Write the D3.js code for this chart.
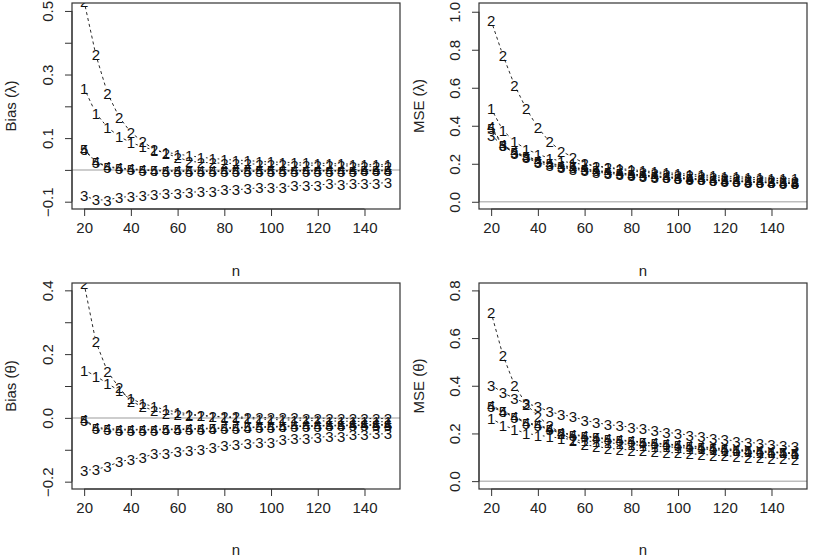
<!DOCTYPE html>
<html><head><meta charset="utf-8">
<script src="https://cdn.jsdelivr.net/npm/d3@7"></script>
<style>
html,body{margin:0;padding:0;background:#fff;}
svg{display:block;font-family:"Liberation Sans",Arial,Helvetica,sans-serif;}
</style></head>
<body><svg id="c" width="813" height="556"></svg>
<script>
// sample sizes (x axis)
const nValues = [20,25,30,35,40,45,50,55,60,65,70,75,80,85,90,95,100,105,110,115,120,125,130,135,140,145,150];
const seriesLabels = ["1","2","3","4","5"];
const xTicks = [20,40,60,80,100,120,140];

// Panel 1: Bias (lambda)
const biasLam1 = [0.257,0.178,0.134,0.105,0.086,0.073,0.062,0.055,0.050,0.044,0.040,0.036,0.033,0.031,0.029,0.027,0.025,0.024,0.023,0.022,0.021,0.020,0.019,0.018,0.017,0.017,0.016];
const biasLam2 = [0.53,0.362,0.241,0.166,0.118,0.089,0.065,0.051,0.040,0.027,0.024,0.022,0.021,0.020,0.019,0.018,0.017,0.016,0.015,0.015,0.014,0.013,0.013,0.012,0.012,0.011,0.011];
const biasLam3 = [-0.082,-0.094,-0.095,-0.086,-0.084,-0.082,-0.076,-0.075,-0.073,-0.070,-0.069,-0.067,-0.062,-0.062,-0.060,-0.056,-0.055,-0.054,-0.049,-0.050,-0.048,-0.044,-0.045,-0.043,-0.043,-0.042,-0.040];
const biasLam4 = [0.065,0.026,0.011,0.006,0.003,0.001,-0.001,-0.002,-0.003,-0.003,-0.003,-0.003,-0.003,-0.003,-0.003,-0.003,-0.003,-0.003,-0.002,-0.002,-0.002,-0.002,-0.002,-0.002,-0.002,-0.001,-0.001];
const biasLam5 = [0.063,0.024,0.009,0.004,0.001,-0.001,-0.003,-0.004,-0.005,-0.005,-0.005,-0.005,-0.005,-0.005,-0.005,-0.005,-0.004,-0.004,-0.004,-0.004,-0.004,-0.004,-0.004,-0.004,-0.003,-0.003,-0.003];
const biasLamTicks = [-0.1,0.0,0.1,0.2,0.3,0.4,0.5];
const biasLamTickLabels = ["\u22120.1","","0.1","","0.3","","0.5"];

// Panel 2: MSE (lambda)
const mseLam1 = [0.49,0.377,0.316,0.277,0.251,0.228,0.214,0.204,0.196,0.188,0.181,0.175,0.169,0.163,0.158,0.153,0.149,0.145,0.141,0.138,0.135,0.132,0.129,0.126,0.124,0.122,0.120];
const mseLam2 = [0.953,0.772,0.614,0.49,0.39,0.316,0.267,0.234,0.202,0.188,0.178,0.170,0.162,0.156,0.150,0.145,0.140,0.136,0.132,0.128,0.125,0.122,0.119,0.116,0.113,0.111,0.108];
const mseLam3 = [0.351,0.295,0.255,0.232,0.205,0.192,0.182,0.172,0.164,0.156,0.150,0.144,0.139,0.134,0.130,0.126,0.122,0.118,0.115,0.112,0.109,0.106,0.104,0.101,0.099,0.097,0.095];
const mseLam4 = [0.395,0.300,0.262,0.240,0.218,0.203,0.192,0.182,0.173,0.165,0.158,0.152,0.146,0.141,0.136,0.132,0.128,0.124,0.120,0.117,0.114,0.111,0.109,0.106,0.104,0.102,0.100];
const mseLam5 = [0.387,0.296,0.258,0.236,0.214,0.199,0.188,0.178,0.170,0.162,0.155,0.149,0.143,0.138,0.133,0.129,0.125,0.121,0.117,0.114,0.111,0.108,0.106,0.103,0.101,0.099,0.097];
const mseLamTicks = [0.0,0.2,0.4,0.6,0.8,1.0];
const mseLamTickLabels = ["0.0","0.2","0.4","0.6","0.8","1.0"];

// Panel 3: Bias (theta)
const biasTh1 = [0.15,0.131,0.108,0.085,0.06,0.045,0.035,0.025,0.018,0.012,0.008,0.005,0.002,0.000,-0.002,-0.004,-0.005,-0.006,-0.007,-0.008,-0.009,-0.010,-0.010,-0.011,-0.011,-0.012,-0.012];
const biasTh2 = [0.42,0.239,0.145,0.095,0.052,0.036,0.022,0.015,0.010,0.009,0.007,0.005,0.004,0.003,0.002,0.001,0.001,0.000,0.000,-0.001,-0.001,-0.001,-0.002,-0.002,-0.002,-0.002,-0.002];
const biasTh3 = [-0.164,-0.162,-0.152,-0.138,-0.130,-0.124,-0.113,-0.112,-0.106,-0.101,-0.098,-0.094,-0.087,-0.085,-0.080,-0.077,-0.076,-0.069,-0.066,-0.065,-0.061,-0.058,-0.057,-0.052,-0.052,-0.050,-0.050];
const biasTh4 = [-0.005,-0.029,-0.034,-0.035,-0.036,-0.036,-0.036,-0.035,-0.035,-0.034,-0.033,-0.032,-0.031,-0.030,-0.029,-0.028,-0.027,-0.026,-0.025,-0.025,-0.024,-0.023,-0.023,-0.022,-0.022,-0.021,-0.021];
const biasTh5 = [-0.008,-0.032,-0.037,-0.038,-0.038,-0.038,-0.038,-0.037,-0.037,-0.036,-0.035,-0.034,-0.033,-0.032,-0.031,-0.030,-0.029,-0.028,-0.027,-0.027,-0.026,-0.025,-0.025,-0.024,-0.024,-0.023,-0.023];
const biasThTicks = [-0.2,-0.1,0.0,0.1,0.2,0.3,0.4];
const biasThTickLabels = ["\u22120.2","","0.0","","0.2","","0.4"];

// Panel 4: MSE (theta)
const mseTh1 = [0.263,0.235,0.217,0.200,0.193,0.186,0.180,0.174,0.169,0.165,0.161,0.157,0.153,0.150,0.147,0.144,0.141,0.138,0.135,0.132,0.129,0.127,0.124,0.122,0.120,0.118,0.116];
const mseTh2 = [0.707,0.529,0.403,0.322,0.272,0.232,0.200,0.172,0.152,0.146,0.137,0.134,0.130,0.127,0.124,0.121,0.118,0.115,0.112,0.109,0.106,0.104,0.101,0.099,0.097,0.095,0.092];
const mseTh3 = [0.403,0.371,0.347,0.326,0.312,0.291,0.279,0.270,0.255,0.245,0.237,0.232,0.226,0.219,0.211,0.205,0.199,0.193,0.186,0.180,0.174,0.168,0.163,0.158,0.153,0.149,0.145];
const mseTh4 = [0.318,0.294,0.272,0.246,0.236,0.220,0.203,0.196,0.190,0.184,0.178,0.173,0.169,0.164,0.160,0.156,0.152,0.148,0.144,0.140,0.136,0.133,0.130,0.127,0.124,0.121,0.118];
const mseTh5 = [0.312,0.290,0.268,0.242,0.232,0.216,0.200,0.193,0.187,0.181,0.175,0.170,0.166,0.161,0.157,0.153,0.149,0.145,0.141,0.137,0.133,0.130,0.127,0.124,0.121,0.118,0.115];
const mseThTicks = [0.0,0.2,0.4,0.6,0.8];
const mseThTickLabels = ["0.0","0.2","0.4","0.6","0.8"];

const panels = [
  {title:"Bias (\u03bb)", series:[biasLam1,biasLam2,biasLam3,biasLam4,biasLam5], ticks:biasLamTicks, labels:biasLamTickLabels,
   box:{l:72,r:400,t:3,b:209}, ydom:[-0.123,0.525], titleX:10, nY:270},
  {title:"MSE (\u03bb)", series:[mseLam1,mseLam2,mseLam3,mseLam4,mseLam5], ticks:mseLamTicks, labels:mseLamTickLabels,
   box:{l:479,r:807,t:3,b:209}, ydom:[-0.038,1.046], titleX:418, nY:270},
  {title:"Bias (\u03b8)", series:[biasTh1,biasTh2,biasTh3,biasTh4,biasTh5], ticks:biasThTicks, labels:biasThTickLabels,
   box:{l:72,r:400,t:283,b:489}, ydom:[-0.223,0.423], titleX:10, nY:549},
  {title:"MSE (\u03b8)", series:[mseTh1,mseTh2,mseTh3,mseTh4,mseTh5], ticks:mseThTicks, labels:mseThTickLabels,
   box:{l:479,r:807,t:283,b:489}, ydom:[-0.033,0.831], titleX:418, nY:549}
];

const svg = d3.select("#c");
const GAP = 5;

panels.forEach((p,pi)=>{
  const x = d3.scaleLinear().domain([14.8,155.2]).range([p.box.l,p.box.r]);
  const y = d3.scaleLinear().domain(p.ydom).range([p.box.b,p.box.t]);
  const g = svg.append("g");
  const cid = "clip"+pi;
  svg.append("clipPath").attr("id",cid).append("rect")
    .attr("x",p.box.l).attr("y",p.box.t).attr("width",p.box.r-p.box.l).attr("height",p.box.b-p.box.t);

  // zero reference line
  g.append("line").attr("x1",p.box.l).attr("x2",p.box.r).attr("y1",y(0)).attr("y2",y(0))
    .attr("stroke","#bdbdbd").attr("stroke-width",1.5);

  const plot = g.append("g").attr("clip-path",`url(#${cid})`);
  p.series.forEach((vals,si)=>{
    const sg = plot.append("g");
    const pts = vals.map((v,i)=>[x(nValues[i]),y(v)]);
    const segs = [];
    for(let i=0;i<pts.length-1;i++){
      const [x0,y0]=pts[i],[x1,y1]=pts[i+1];
      const dx=x1-x0, dy=y1-y0, L=Math.hypot(dx,dy);
      if(L>2*GAP){
        const ux=dx/L, uy=dy/L;
        segs.push([x0+ux*GAP,y0+uy*GAP,x1-ux*GAP,y1-uy*GAP]);
      }
    }
    sg.selectAll("line").data(segs).join("line")
      .attr("x1",d=>d[0]).attr("y1",d=>d[1]).attr("x2",d=>d[2]).attr("y2",d=>d[3])
      .attr("stroke","#111").attr("stroke-width",0.9).attr("stroke-dasharray","3,3");
    sg.selectAll("text").data(vals).join("text")
      .attr("x",(d,i)=>x(nValues[i])).attr("y",d=>y(d))
      .attr("text-anchor","middle").attr("dominant-baseline","central")
      .attr("font-size",15).attr("fill","#111").text(seriesLabels[si]);
  });

  // box
  g.append("rect").attr("x",p.box.l).attr("y",p.box.t).attr("width",p.box.r-p.box.l).attr("height",p.box.b-p.box.t)
    .attr("fill","none").attr("stroke","#333").attr("stroke-width",1.2);

  // x axis
  const xa = d3.axisBottom(x).tickValues(xTicks).tickSize(7).tickPadding(6).tickFormat(d3.format("d"));
  const xg = g.append("g").attr("transform",`translate(0,${p.box.b})`).call(xa);
  xg.select(".domain").attr("d",`M${x(xTicks[0])},0H${x(xTicks[xTicks.length-1])}`).attr("stroke","#333");
  xg.selectAll(".tick line").attr("stroke","#333");
  xg.selectAll("text").attr("font-size",15).attr("fill","#222").attr("font-family","Liberation Sans, Arial, sans-serif");

  // y axis
  const ya = d3.axisLeft(y).tickValues(p.ticks).tickSize(7).tickFormat((d,i)=>p.labels[i]);
  const yg = g.append("g").attr("transform",`translate(${p.box.l},0)`).call(ya);
  yg.select(".domain").attr("d",`M0,${y(p.ticks[0])}V${y(p.ticks[p.ticks.length-1])}`).attr("stroke","#333");
  yg.selectAll(".tick line").attr("stroke","#333");
  yg.selectAll(".tick text").attr("font-size",15).attr("fill","#222").attr("font-family","Liberation Sans, Arial, sans-serif")
    .attr("x",0).attr("dy",null).attr("text-anchor","middle").attr("dominant-baseline","central")
    .attr("transform","translate(-25,0) rotate(-90)");

  // titles
  g.append("text").attr("x",(p.box.l+p.box.r)/2).attr("y",p.nY).attr("text-anchor","middle")
    .attr("dominant-baseline","central").attr("font-size",15).attr("fill","#222").text("n");
  g.append("text").attr("transform",`translate(${p.titleX},${(p.box.t+p.box.b)/2}) rotate(-90)`)
    .attr("text-anchor","middle").attr("dominant-baseline","central").attr("font-size",15).attr("fill","#222").text(p.title);
});
</script></body></html>
